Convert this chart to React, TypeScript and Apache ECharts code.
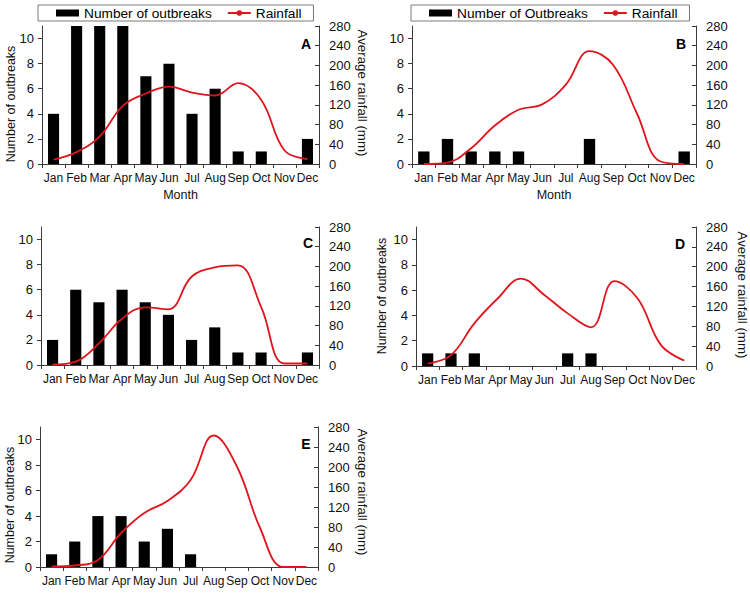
import React, { useEffect, useRef } from 'react';
import * as echarts from 'echarts';

const months = ['Jan', 'Feb', 'Mar', 'Apr', 'May', 'Jun', 'Jul', 'Aug', 'Sep', 'Oct', 'Nov', 'Dec'];

const outbreaksA = [4, 11, 11, 11, 7, 8, 4, 6, 1, 1, 0, 2];
const rainfallA = [9, 24, 56, 118, 143, 157, 145, 139, 164, 130, 28, 10];

const outbreaksB = [1, 2, 1, 1, 1, 0, 0, 2, 0, 0, 0, 1];
const rainfallB = [0, 3, 32, 78, 110, 121, 161, 229, 201, 103, 5, 0];

const outbreaksC = [2, 6, 5, 6, 5, 4, 2, 3, 1, 1, 0, 1];
const rainfallC = [1, 7, 44, 94, 117, 113, 179, 198, 202, 118, 3, 3];

const outbreaksD = [1, 1, 1, 0, 0, 0, 1, 1, 0, 0, 0, 0];
const rainfallD = [5, 22, 86, 136, 176, 143, 106, 78, 171, 136, 42, 11];

const outbreaksE = [1, 2, 4, 4, 2, 3, 1, 0, 0, 0, 0, 0];
const rainfallE = [1, 3, 14, 68, 108, 132, 174, 263, 201, 78, 0, 0];

const panelLetters = ['A', 'B', 'C', 'D', 'E'];
const barNames = ['Number of outbreaks', 'Number of Outbreaks', 'Number of outbreaks', 'Number of outbreaks', 'Number of outbreaks'];
const leftAxisName = 'Number of outbreaks';
const rightAxisName = 'Average rainfall (mm)';
const xAxisName = 'Month';

const panels = [
  { bars: outbreaksA, rain: rainfallA, grid: { left: 42, top: 26, width: 277, height: 138 }, leftName: { x: 11, y: 104 }, rightName: { x: 362, y: 93 }, month: true, letter: { x: 306, y: 44 } },
  { bars: outbreaksB, rain: rainfallB, grid: { left: 412, top: 26, width: 284, height: 138 }, leftName: null, rightName: null, month: true, letter: { x: 681, y: 44 } },
  { bars: outbreaksC, rain: rainfallC, grid: { left: 41, top: 227, width: 278, height: 138 }, leftName: null, rightName: null, month: false, letter: { x: 308, y: 243 } },
  { bars: outbreaksD, rain: rainfallD, grid: { left: 416, top: 227, width: 280, height: 139 }, leftName: { x: 382, y: 296 }, rightName: { x: 742, y: 295 }, month: false, letter: { x: 680, y: 244 } },
  { bars: outbreaksE, rain: rainfallE, grid: { left: 40, top: 427, width: 278, height: 140 }, leftName: { x: 10, y: 505 }, rightName: { x: 362, y: 492 }, month: false, letter: { x: 306, y: 444 } },
];

const FONT = 'Liberation Sans';
const AXIS_COLOR = '#3a3a3a';
const RED = '#e0141c';

function buildOption() {
  const grid: any[] = [];
  const xAxis: any[] = [];
  const yAxis: any[] = [];
  const series: any[] = [];
  const graphic: any[] = [];

  panels.forEach((p, i) => {
    grid.push({ ...p.grid, containLabel: false });
    xAxis.push({
      type: 'category',
      gridIndex: i,
      data: months,
      axisLine: { lineStyle: { color: AXIS_COLOR, width: 1 } },
      axisTick: { show: true, length: 4, lineStyle: { color: AXIS_COLOR } },
      axisLabel: { color: '#111', fontSize: 12, margin: 8, interval: 0, fontFamily: FONT },
      name: p.month ? xAxisName : '',
      nameLocation: 'middle',
      nameGap: 24,
      nameTextStyle: { color: '#111', fontSize: 12.5, fontFamily: FONT },
    });
    yAxis.push({
      type: 'value',
      gridIndex: i,
      position: 'left',
      min: 0,
      max: 11,
      interval: 2,
      splitLine: { show: false },
      axisLine: { show: true, lineStyle: { color: AXIS_COLOR, width: 1 } },
      axisTick: { show: true, length: 4, lineStyle: { color: AXIS_COLOR } },
      axisLabel: { color: '#111', fontSize: 13, margin: 8, showMaxLabel: false, fontFamily: FONT },
    });
    yAxis.push({
      type: 'value',
      gridIndex: i,
      position: 'right',
      min: 0,
      max: 280,
      interval: 40,
      splitLine: { show: false },
      axisLine: { show: true, lineStyle: { color: AXIS_COLOR, width: 1 } },
      axisTick: { show: true, inside: true, length: 4, lineStyle: { color: AXIS_COLOR } },
      axisLabel: { color: '#111', fontSize: 13, margin: 10, fontFamily: FONT },
    });
    series.push({
      type: 'bar',
      name: barNames[i],
      xAxisIndex: i,
      yAxisIndex: i * 2,
      data: p.bars,
      barWidth: '48%',
      itemStyle: { color: '#000' },
    });
    series.push({
      type: 'line',
      name: 'Rainfall',
      xAxisIndex: i,
      yAxisIndex: i * 2 + 1,
      data: p.rain,
      smooth: 0.4,
      symbol: 'none',
      lineStyle: { color: RED, width: 1.8 },
      itemStyle: { color: RED },
    });
    graphic.push({
      type: 'text',
      x: p.letter.x,
      y: p.letter.y,
      style: {
        text: panelLetters[i],
        fontSize: 14,
        fontWeight: 'bold',
        fontFamily: FONT,
        fill: '#000',
        align: 'center',
        verticalAlign: 'middle',
      },
    });
    if (p.leftName) {
      graphic.push({
        type: 'text',
        x: p.leftName.x,
        y: p.leftName.y,
        rotation: Math.PI / 2,
        style: {
          text: leftAxisName,
          fontSize: 12.5,
          fontFamily: FONT,
          fill: '#111',
          align: 'center',
          verticalAlign: 'middle',
        },
      });
    }
    if (p.rightName) {
      graphic.push({
        type: 'text',
        x: p.rightName.x,
        y: p.rightName.y,
        rotation: -Math.PI / 2,
        style: {
          text: rightAxisName,
          fontSize: 13.3,
          fontFamily: FONT,
          fill: '#111',
          align: 'center',
          verticalAlign: 'middle',
        },
      });
    }
  });

  const legendCommon = {
    top: 5,
    orient: 'horizontal',
    itemWidth: 23,
    itemHeight: 7,
    itemGap: 15,
    borderColor: '#7a7a7a',
    borderWidth: 1,
    borderRadius: 0,
    backgroundColor: '#fff',
    textStyle: { color: '#000', fontSize: 13.7, fontFamily: FONT },
    selectedMode: false,
  };

  const legend = [
    {
      ...legendCommon,
      left: 38,
      padding: [1, 12, 1, 18],
      data: [{ name: barNames[0], icon: 'rect' }, { name: 'Rainfall' }],
    },
    {
      ...legendCommon,
      left: 411,
      padding: [1, 12, 1, 18],
      data: [{ name: barNames[1], icon: 'rect' }, { name: 'Rainfall' }],
    },
  ];

  return {
    animation: false,
    backgroundColor: '#fff',
    textStyle: { fontFamily: FONT },
    grid,
    xAxis,
    yAxis,
    series,
    legend,
    graphic,
  };
}

export default function App() {
  const ref = useRef<HTMLDivElement>(null);
  useEffect(() => {
    const chart = echarts.init(ref.current!, null, { renderer: 'svg' });
    chart.setOption(buildOption() as any);
    return () => chart.dispose();
  }, []);
  return (
    <div
      ref={ref}
      style={{ position: 'absolute', left: 0, top: 0, width: 750, height: 603, background: '#fff' }}
    />
  );
}
